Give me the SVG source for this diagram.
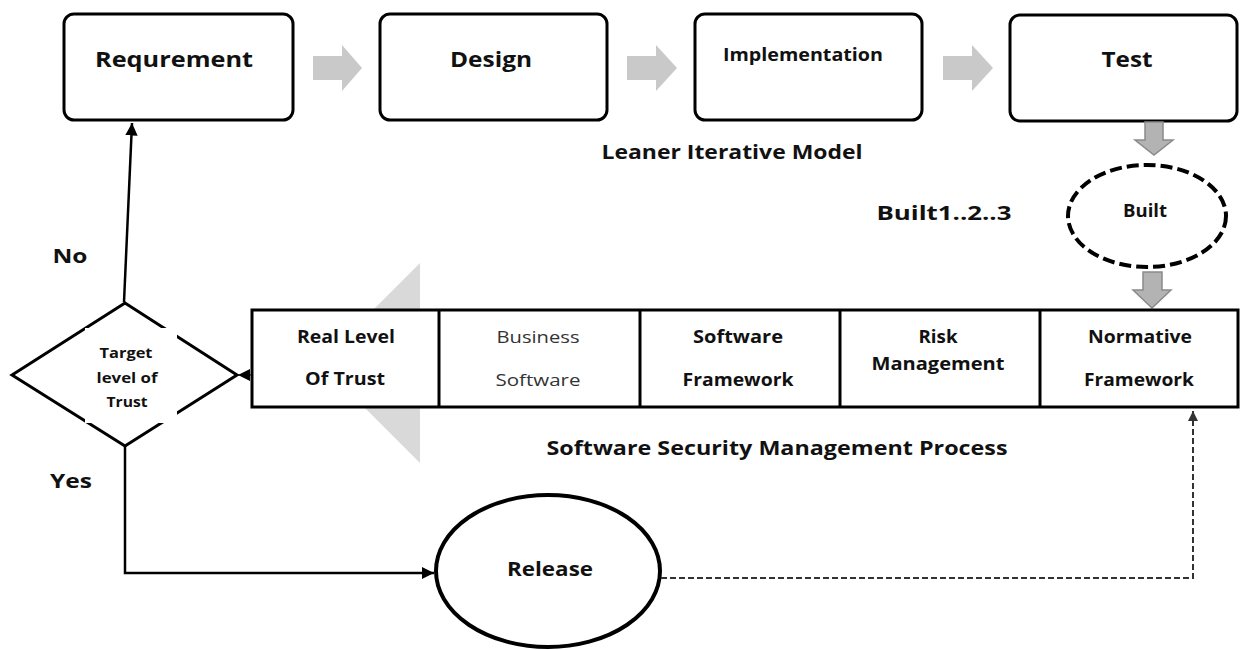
<svg xmlns="http://www.w3.org/2000/svg" width="1243" height="650" viewBox="0 0 1243 650">
<style>
.box{fill:#fff;stroke:#000;stroke-width:3}
.t{font-family:"Open Sans","Liberation Sans",sans-serif;font-weight:bold;fill:#111;text-anchor:middle}
.n{font-family:"Open Sans","Liberation Sans",sans-serif;font-weight:normal;fill:#333;text-anchor:middle}
.garrow{fill:#c9c9c9}
.darrow{fill:#b3b3b3;stroke:#8a8a8a;stroke-width:1.5}
.line{fill:none;stroke:#000;stroke-width:2.5}
.dash{fill:none;stroke:#333;stroke-width:2;stroke-dasharray:6 3}
</style>
<defs>
<marker id="ah" viewBox="0 0 10 10" refX="10" refY="5" markerWidth="5" markerHeight="5" orient="auto" markerUnits="strokeWidth"><path d="M0,0 L10,5 L0,10 z" fill="#000"/></marker>
<marker id="ahd" viewBox="0 0 10 10" refX="10" refY="5" markerWidth="5" markerHeight="5" orient="auto" markerUnits="strokeWidth"><path d="M0,0 L10,5 L0,10 z" fill="#333"/></marker>
<marker id="ahb" viewBox="0 0 10 10" refX="10" refY="5" markerWidth="14" markerHeight="12" orient="auto" markerUnits="userSpaceOnUse"><path d="M0,0 L10,5 L0,10 z" fill="#000"/></marker>
</defs>

<!-- big gray arrow behind table -->
<polygon points="420,263 420,463 320,363" fill="#d9d9d9"/>

<g id="requirement"><rect class="box" x="64" y="14" width="229" height="106" rx="10"/><text class="t" x="174" y="67" font-size="21" textLength="158" lengthAdjust="spacingAndGlyphs">Requrement</text></g>
<g id="design"><rect class="box" x="380" y="14" width="227" height="106" rx="10"/><text class="t" x="491" y="67" font-size="21" textLength="82" lengthAdjust="spacingAndGlyphs">Design</text></g>
<g id="implementation"><rect class="box" x="695" y="14" width="227" height="106" rx="10"/><text class="t" x="803" y="61" font-size="17" textLength="160" lengthAdjust="spacingAndGlyphs">Implementation</text></g>
<g id="test"><rect class="box" x="1010" y="15" width="227" height="106" rx="10"/><text class="t" x="1127" y="67" font-size="21" textLength="51" lengthAdjust="spacingAndGlyphs">Test</text></g>

<g id="flow-arrows">
<polygon class="garrow" points="313,56 342,56 342,45 362,68 342,91 342,80 313,80"/>
<polygon class="garrow" points="627,56 656,56 656,45 677,68 656,91 656,80 627,80"/>
<polygon class="garrow" points="943,56 972,56 972,45 993,68 972,91 972,80 943,80"/>
<polygon class="darrow" points="1145,122 1163,122 1163,140 1173,140 1154,155 1135,140 1145,140"/>
<polygon class="darrow" points="1143,272 1162,272 1162,290 1171,290 1152,308 1133,290 1143,290"/>
</g>

<text class="t" x="732" y="159" font-size="20" textLength="261" lengthAdjust="spacingAndGlyphs">Leaner Iterative Model</text>
<text class="t" x="944" y="220" font-size="20" textLength="135" lengthAdjust="spacingAndGlyphs">Built1..2..3</text>

<g id="built"><ellipse cx="1147" cy="216" rx="79" ry="51" fill="#fff" stroke="#000" stroke-width="4" stroke-dasharray="12 5"/><text class="t" x="1145" y="217" font-size="17" textLength="44" lengthAdjust="spacingAndGlyphs">Built</text></g>

<g id="ssmp-table">
<rect class="box" x="252" y="310" width="986" height="97"/>
<line x1="439" y1="310" x2="439" y2="407" stroke="#000" stroke-width="3"/>
<line x1="640" y1="310" x2="640" y2="407" stroke="#000" stroke-width="3"/>
<line x1="840" y1="310" x2="840" y2="407" stroke="#000" stroke-width="3"/>
<line x1="1040" y1="310" x2="1040" y2="407" stroke="#000" stroke-width="3"/>
<g id="real-level"><text class="t" x="346" y="343" font-size="17" textLength="98" lengthAdjust="spacingAndGlyphs">Real Level</text><text class="t" x="345" y="385" font-size="17" textLength="80" lengthAdjust="spacingAndGlyphs">Of Trust</text></g>
<g id="business-software"><text class="n" x="538" y="343" font-size="17" textLength="83" lengthAdjust="spacingAndGlyphs">Business</text><text class="n" x="538" y="386" font-size="17" textLength="85" lengthAdjust="spacingAndGlyphs">Software</text></g>
<g id="software-framework"><text class="t" x="738" y="343" font-size="17" textLength="90" lengthAdjust="spacingAndGlyphs">Software</text><text class="t" x="738" y="386" font-size="17" textLength="111" lengthAdjust="spacingAndGlyphs">Framework</text></g>
<g id="risk-management"><text class="t" x="938" y="343" font-size="17" textLength="39" lengthAdjust="spacingAndGlyphs">Risk</text><text class="t" x="938" y="370" font-size="17" textLength="133" lengthAdjust="spacingAndGlyphs">Management</text></g>
<g id="normative-framework"><text class="t" x="1140" y="343" font-size="17" textLength="104" lengthAdjust="spacingAndGlyphs">Normative</text><text class="t" x="1139" y="386" font-size="17" textLength="110" lengthAdjust="spacingAndGlyphs">Framework</text></g>
</g>

<text class="t" x="777" y="455" font-size="20" textLength="461" lengthAdjust="spacingAndGlyphs">Software Security Management Process</text>

<g id="decision">
<polygon points="12,375 125,303 237,375 125,446" fill="#fff" stroke="#000" stroke-width="3"/>
<rect x="85" y="328" width="92" height="95" fill="#fff"/>
<text class="t" x="126" y="358" font-size="15" textLength="53" lengthAdjust="spacingAndGlyphs">Target</text>
<text class="t" x="127" y="383" font-size="15" textLength="61" lengthAdjust="spacingAndGlyphs">level of</text>
<text class="t" x="127" y="407" font-size="15" textLength="41" lengthAdjust="spacingAndGlyphs">Trust</text>
</g>

<g id="release"><ellipse cx="548" cy="571" rx="112" ry="76" fill="#fff" stroke="#000" stroke-width="4"/><text class="t" x="550" y="576" font-size="20" textLength="86" lengthAdjust="spacingAndGlyphs">Release</text></g>

<g id="connectors">
<line x1="252" y1="375" x2="238" y2="375" stroke="#000" stroke-width="1" marker-end="url(#ahb)"/>
<line class="line" x1="124" y1="302" x2="132" y2="123" marker-end="url(#ah)"/>
<polyline class="line" points="125,446 125,573 434,573" marker-end="url(#ah)"/>
<polyline class="dash" points="661,578 1193,578 1193,411" marker-end="url(#ahd)"/>
</g>

<text class="t" x="70" y="263" font-size="20" textLength="35" lengthAdjust="spacingAndGlyphs">No</text>
<text class="t" x="71" y="488" font-size="20" textLength="42" lengthAdjust="spacingAndGlyphs">Yes</text>
</svg>
